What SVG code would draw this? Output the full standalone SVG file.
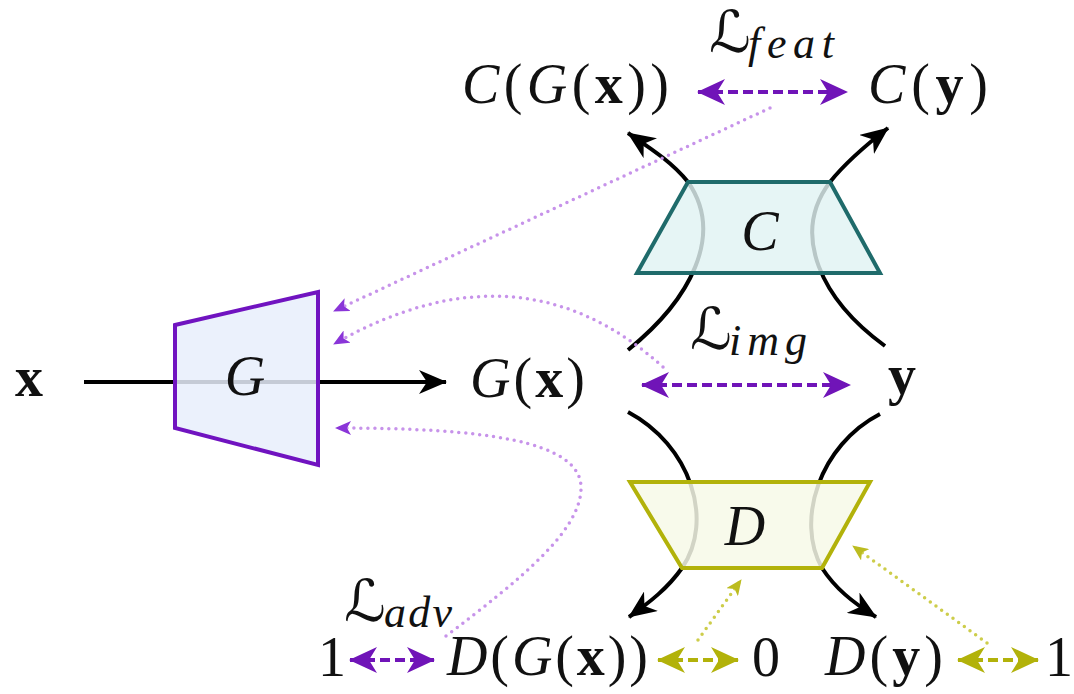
<svg xmlns="http://www.w3.org/2000/svg" width="1074" height="694" viewBox="0 0 1074 694">
<style>
text{font-family:"Liberation Serif","DejaVu Serif",serif;font-size:56px;fill:#111}
.i{font-style:italic}
.b{font-weight:bold}
.cal{font-family:"DejaVu Serif","DejaVu Sans",serif;font-size:58px;font-style:normal}
.sub{font-size:44px;font-style:italic}
.blk{fill:none;stroke:#000;stroke-width:4}
.pd{fill:none;stroke:#7014b8;stroke-width:4;stroke-dasharray:10 5}
.od{fill:none;stroke:#b2b20a;stroke-width:4;stroke-dasharray:10 5}
.pdot{fill:none;stroke:#c793ea;stroke-width:3.5;stroke-dasharray:0 7;stroke-linecap:round}
.odot{fill:none;stroke:#cdcd4a;stroke-width:3.5;stroke-dasharray:0 7;stroke-linecap:round}
</style>
<defs>
<marker id="ab" viewBox="0 0 28 24" refX="27" refY="12" markerWidth="28" markerHeight="24" markerUnits="userSpaceOnUse" orient="auto">
<path d="M0,0 L28,12 L0,24 L8,12 z" fill="#000"/>
</marker>
<marker id="ap" viewBox="0 0 28 26" refX="27" refY="13" markerWidth="28" markerHeight="26" markerUnits="userSpaceOnUse" orient="auto-start-reverse">
<path d="M0,0 L28,13 L0,26 L8,13 z" fill="#7014b8"/>
</marker>
<marker id="ao" viewBox="0 0 28 26" refX="27" refY="13" markerWidth="28" markerHeight="26" markerUnits="userSpaceOnUse" orient="auto-start-reverse">
<path d="M0,0 L28,13 L0,26 L8,13 z" fill="#b2b20a"/>
</marker>
<marker id="sp" viewBox="0 0 16 14" refX="15" refY="7" markerWidth="16" markerHeight="14" markerUnits="userSpaceOnUse" orient="auto">
<path d="M0,0 L16,7 L0,14 L4,7 z" fill="#8a35d8"/>
</marker>
<marker id="so" viewBox="0 0 16 14" refX="15" refY="7" markerWidth="16" markerHeight="14" markerUnits="userSpaceOnUse" orient="auto">
<path d="M0,0 L16,7 L0,14 L4,7 z" fill="#bcbc20"/>
</marker>
</defs>
<rect width="1074" height="694" fill="#fff"/>
<g id="connectors">
<line class="blk" x1="84" y1="382" x2="446" y2="382" marker-end="url(#ab)"/>
<path class="blk" d="M628,350 C690,300 725,235 688,182 C672,162 650,148 628,133" marker-end="url(#ab)"/>
<path class="blk" d="M885,346 C822,300 790,235 830,182 C846,162 866,145 888,128" marker-end="url(#ab)"/>
<path class="blk" d="M628,412 C690,445 715,520 682,568 C668,588 650,602 629,617" marker-end="url(#ab)"/>
<path class="blk" d="M880,414 C820,445 795,520 822,568 C835,588 852,602 876,617" marker-end="url(#ab)"/>
<line class="pd" x1="698" y1="92" x2="847" y2="92" marker-start="url(#ap)" marker-end="url(#ap)"/>
<line class="pd" x1="642" y1="385" x2="850" y2="385" marker-start="url(#ap)" marker-end="url(#ap)"/>
<line class="pd" x1="350" y1="660" x2="434" y2="660" marker-start="url(#ap)" marker-end="url(#ap)"/>
<line class="od" x1="658" y1="660" x2="738" y2="660" marker-start="url(#ao)" marker-end="url(#ao)"/>
<line class="od" x1="958" y1="660" x2="1038" y2="660" marker-start="url(#ao)" marker-end="url(#ao)"/>
<line class="pdot" x1="770" y1="108" x2="334" y2="311" marker-end="url(#sp)"/>
<path class="pdot" d="M663,367 Q520,238 334,344" marker-end="url(#sp)"/>
<path class="pdot" d="M446,636 C520,580 582,530 581,487 C580,440 480,428 336,428" marker-end="url(#sp)"/>
<line class="odot" x1="698" y1="640" x2="741" y2="580" marker-end="url(#so)"/>
<line class="odot" x1="987" y1="643" x2="853" y2="546" marker-end="url(#so)"/>
</g>
<g id="node-G">
<polygon points="175,325 318,292 318,465 175,428" fill="#e8eefc" fill-opacity="0.85" stroke="#7013c0" stroke-width="4"/>
<text class="i" x="245" y="395" text-anchor="middle">G</text>
</g>
<g id="node-C">
<polygon points="688,182 830,182 880,273 637,273" fill="#e0f3f3" fill-opacity="0.82" stroke="#1f6b6b" stroke-width="4"/>
<text class="i" x="760" y="250" text-anchor="middle">C</text>
</g>
<g id="node-D">
<polygon points="630,482 870,482 822,568 682,568" fill="#f7f9e8" fill-opacity="0.85" stroke="#b2b20a" stroke-width="4"/>
<text class="i" x="745" y="545" text-anchor="middle">D</text>
</g>
<g id="node-x"><text class="b" x="15" y="396">x</text></g>
<g id="node-Gx"><text x="470" y="397" textLength="115" lengthAdjust="spacing"><tspan class="i">G</tspan>(<tspan class="b">x</tspan>)</text></g>
<g id="node-y"><text class="b" x="888" y="394">y</text></g>
<g id="node-CGx"><text x="462" y="103" textLength="207" lengthAdjust="spacing"><tspan class="i">C</tspan>(<tspan class="i">G</tspan>(<tspan class="b">x</tspan>))</text></g>
<g id="node-Cy"><text x="868" y="103" textLength="120" lengthAdjust="spacing"><tspan class="i">C</tspan>(<tspan class="b">y</tspan>)</text></g>
<g id="node-DGx"><text x="447" y="675" textLength="201" lengthAdjust="spacing"><tspan class="i">D</tspan>(<tspan class="i">G</tspan>(<tspan class="b">x</tspan>))</text></g>
<g id="node-Dy"><text x="825" y="675" textLength="118" lengthAdjust="spacing"><tspan class="i">D</tspan>(<tspan class="b">y</tspan>)</text></g>
<g id="node-one-left"><text x="318" y="676">1</text></g>
<g id="node-zero"><text x="752" y="676">0</text></g>
<g id="node-one-right"><text x="1045" y="676">1</text></g>
<g id="label-Lfeat"><text class="cal" x="709" y="52">ℒ</text><text class="sub" x="748" y="58" textLength="86" lengthAdjust="spacing">feat</text></g>
<g id="label-Limg"><text class="cal" x="690" y="349">ℒ</text><text class="sub" x="729" y="355" textLength="78" lengthAdjust="spacing">img</text></g>
<g id="label-Ladv"><text class="cal" x="344" y="621">ℒ</text><text class="sub" x="384" y="627" textLength="68" lengthAdjust="spacing">adv</text></g>
</svg>
